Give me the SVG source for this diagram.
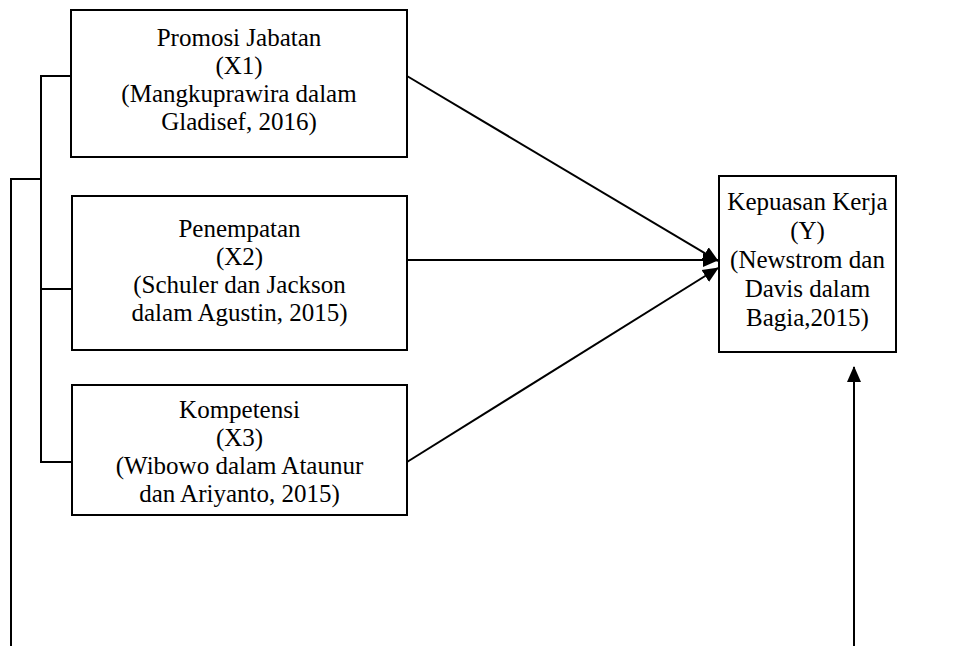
<svg xmlns="http://www.w3.org/2000/svg" width="976" height="646" viewBox="0 0 976 646">
<style>
.box{fill:#fff;stroke:#000;stroke-width:2}
.ln{fill:none;stroke:#000;stroke-width:2}
text{font-family:"Liberation Serif","Times New Roman",serif;font-size:25px;fill:#000;text-anchor:middle}
</style>
<defs>
<marker id="ah" markerWidth="16" markerHeight="16" refX="15" refY="8" orient="auto" markerUnits="userSpaceOnUse" viewBox="0 0 16 16">
<path d="M0,1 L16,8 L0,15 Z" fill="#000"/>
</marker>
</defs>
<rect width="976" height="646" fill="#fff"/>
<g id="connectors">
<path class="ln" d="M72,76 H41 V462 H72 M41,289 H72"/>
<path class="ln" d="M41,179 H11 V646"/>
<line class="ln" x1="407" y1="76" x2="718" y2="261" marker-end="url(#ah)"/>
<line class="ln" x1="407" y1="260" x2="718" y2="260" marker-end="url(#ah)"/>
<line class="ln" x1="407" y1="462" x2="718" y2="268" marker-end="url(#ah)"/>
<line class="ln" x1="854" y1="646" x2="854" y2="367" marker-end="url(#ah)"/>
</g>
<g id="x1">
<rect class="box" x="71" y="10" width="336" height="147"/>
<text x="239" y="46">Promosi Jabatan</text>
<text x="239" y="74">(X1)</text>
<text x="239" y="102">(Mangkuprawira dalam</text>
<text x="239" y="130">Gladisef, 2016)</text>
</g>
<g id="x2">
<rect class="box" x="72" y="196" width="335" height="154"/>
<text x="239.5" y="237">Penempatan</text>
<text x="239.5" y="265">(X2)</text>
<text x="239.5" y="293">(Schuler dan Jackson</text>
<text x="239.5" y="321">dalam Agustin, 2015)</text>
</g>
<g id="x3">
<rect class="box" x="72" y="385" width="335" height="130"/>
<text x="239.5" y="418">Kompetensi</text>
<text x="239.5" y="446">(X3)</text>
<text x="239.5" y="474">(Wibowo dalam Ataunur</text>
<text x="239.5" y="502">dan Ariyanto, 2015)</text>
</g>
<g id="y">
<rect class="box" x="719" y="176" width="177" height="176"/>
<text x="807.5" y="210">Kepuasan Kerja</text>
<text x="807.5" y="239">(Y)</text>
<text x="807.5" y="268">(Newstrom dan</text>
<text x="807.5" y="297">Davis dalam</text>
<text x="807.5" y="326">Bagia,2015)</text>
</g>
</svg>
